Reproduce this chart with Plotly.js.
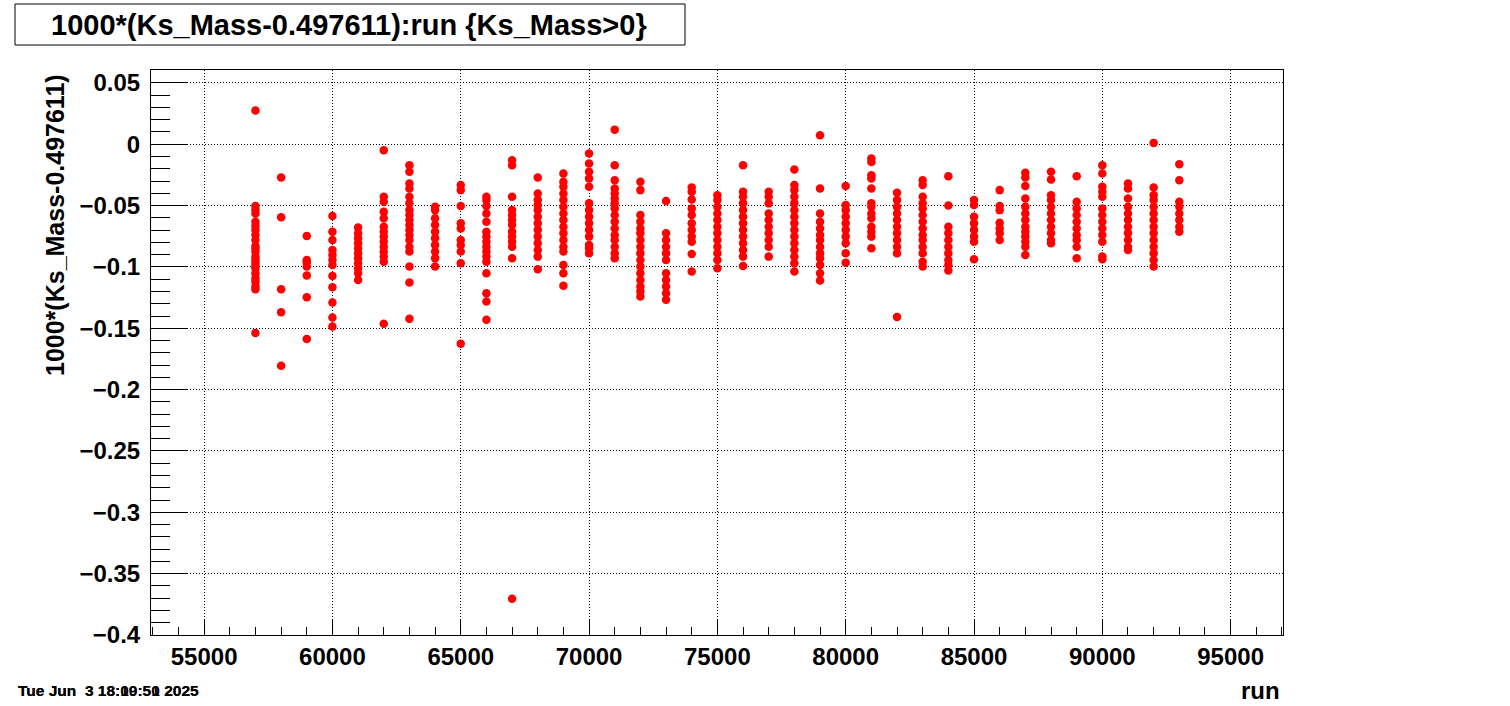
<!DOCTYPE html>
<html><head><meta charset="utf-8">
<script src="https://cdn.plot.ly/plotly-3.0.1.min.js"></script>
<style>html,body{margin:0;padding:0;background:#fff;} #plot{width:1510px;height:706px;}</style>
</head><body><div id="plot"></div>
<script>
// ---- data ----
const runs = [57000,58000,59000,60000,61000,62000,63000,64000,65000,66000,67000,68000,69000,70000,71000,72000,73000,74000,75000,76000,77000,78000,79000,80000,81000,82000,83000,84000,85000,86000,87000,88000,89000,90000,91000,92000,93000];

const r57000 = [0.0274,-0.0504,-0.0535,-0.0564,-0.0631,-0.0667,-0.0700,-0.0740,-0.0780,-0.0829,-0.0850,-0.0875,-0.0916,-0.0940,-0.0965,-0.0990,-0.1011,-0.1051,-0.1092,-0.1120,-0.1160,-0.1182,-0.1539];
const r58000 = [-0.0271,-0.0596,-0.1182,-0.1369,-0.1806];
const r59000 = [-0.0748,-0.0943,-0.0962,-0.0997,-0.1070,-0.1247,-0.1588];
const r60000 = [-0.0585,-0.0713,-0.0780,-0.0862,-0.0902,-0.0943,-0.0984,-0.1073,-0.1165,-0.1290,-0.1412,-0.1485];
const r61000 = [-0.0678,-0.0726,-0.0767,-0.0808,-0.0848,-0.0889,-0.0930,-0.0970,-0.1011,-0.1051,-0.1106];
const r62000 = [-0.0049,-0.0428,-0.0469,-0.0550,-0.0604,-0.0672,-0.0713,-0.0753,-0.0794,-0.0835,-0.0875,-0.0916,-0.0957,-0.1463];
const r63000 = [-0.0171,-0.0225,-0.0320,-0.0360,-0.0428,-0.0482,-0.0537,-0.0577,-0.0618,-0.0659,-0.0699,-0.0740,-0.0780,-0.0835,-0.0875,-0.0997,-0.1127,-0.1423];
const r64000 = [-0.0509,-0.0537,-0.0604,-0.0659,-0.0713,-0.0767,-0.0821,-0.0875,-0.0930,-0.0997];
const r65000 = [-0.0333,-0.0374,-0.0504,-0.0645,-0.0686,-0.0780,-0.0821,-0.0875,-0.0970,-0.1627];
const r66000 = [-0.0428,-0.0455,-0.0504,-0.0564,-0.0631,-0.0713,-0.0753,-0.0794,-0.0835,-0.0875,-0.0916,-0.0957,-0.1051,-0.1214,-0.1282,-0.1431];
const r67000 = [-0.0130,-0.0171,-0.0428,-0.0537,-0.0577,-0.0618,-0.0659,-0.0713,-0.0753,-0.0794,-0.0835,-0.0930,-0.3704];
const r68000 = [-0.0271,-0.0401,-0.0455,-0.0496,-0.0537,-0.0591,-0.0645,-0.0699,-0.0753,-0.0808,-0.0862,-0.0916,-0.1019];
const r69000 = [-0.0238,-0.0306,-0.0347,-0.0401,-0.0455,-0.0509,-0.0564,-0.0618,-0.0672,-0.0726,-0.0780,-0.0835,-0.0875,-0.0984,-0.1051,-0.1154];
const r70000 = [-0.0076,-0.0157,-0.0225,-0.0279,-0.0347,-0.0482,-0.0537,-0.0591,-0.0645,-0.0699,-0.0753,-0.0821,-0.0848,-0.0889];
const r71000 = [0.0119,-0.0171,-0.0293,-0.0360,-0.0401,-0.0442,-0.0482,-0.0523,-0.0577,-0.0631,-0.0686,-0.0740,-0.0780,-0.0835,-0.0889,-0.0930];
const r72000 = [-0.0306,-0.0374,-0.0577,-0.0631,-0.0686,-0.0726,-0.0780,-0.0835,-0.0889,-0.0943,-0.0997,-0.1051,-0.1106,-0.1160,-0.1201,-0.1241];
const r73000 = [-0.0463,-0.0726,-0.0780,-0.0835,-0.0889,-0.0943,-0.1051,-0.1106,-0.1160,-0.1214,-0.1268];
const r74000 = [-0.0352,-0.0388,-0.0450,-0.0523,-0.0577,-0.0645,-0.0699,-0.0753,-0.0794,-0.0894,-0.1038];
const r75000 = [-0.0415,-0.0455,-0.0509,-0.0564,-0.0618,-0.0672,-0.0726,-0.0780,-0.0835,-0.0889,-0.0943,-0.1011];
const r76000 = [-0.0171,-0.0388,-0.0428,-0.0482,-0.0537,-0.0591,-0.0645,-0.0699,-0.0753,-0.0808,-0.0862,-0.0916,-0.0992];
const r77000 = [-0.0388,-0.0428,-0.0482,-0.0564,-0.0618,-0.0672,-0.0726,-0.0780,-0.0835,-0.0916];
const r78000 = [-0.0206,-0.0333,-0.0374,-0.0428,-0.0482,-0.0537,-0.0591,-0.0645,-0.0699,-0.0753,-0.0808,-0.0862,-0.0916,-0.0970,-0.1038];
const r79000 = [0.0073,-0.0360,-0.0564,-0.0631,-0.0686,-0.0740,-0.0780,-0.0835,-0.0889,-0.0930,-0.0984,-0.1051,-0.1111];
const r80000 = [-0.0341,-0.0496,-0.0537,-0.0591,-0.0645,-0.0699,-0.0753,-0.0808,-0.0889,-0.0965];
const r81000 = [-0.0117,-0.0144,-0.0252,-0.0279,-0.0360,-0.0482,-0.0509,-0.0564,-0.0604,-0.0672,-0.0713,-0.0753,-0.0848];
const r82000 = [-0.0396,-0.0455,-0.0509,-0.0564,-0.0618,-0.0672,-0.0726,-0.0780,-0.0835,-0.0889,-0.1409];
const r83000 = [-0.0293,-0.0333,-0.0428,-0.0482,-0.0523,-0.0577,-0.0631,-0.0686,-0.0740,-0.0780,-0.0835,-0.0889,-0.0957,-0.0997];
const r84000 = [-0.0260,-0.0499,-0.0672,-0.0726,-0.0780,-0.0835,-0.0889,-0.0943,-0.0984,-0.1030];
const r85000 = [-0.0455,-0.0496,-0.0591,-0.0645,-0.0699,-0.0753,-0.0794,-0.0938];
const r86000 = [-0.0374,-0.0504,-0.0537,-0.0640,-0.0686,-0.0726,-0.0780];
const r87000 = [-0.0233,-0.0271,-0.0341,-0.0442,-0.0509,-0.0564,-0.0618,-0.0672,-0.0713,-0.0753,-0.0794,-0.0835,-0.0902];
const r88000 = [-0.0225,-0.0287,-0.0415,-0.0455,-0.0509,-0.0564,-0.0618,-0.0672,-0.0726,-0.0780,-0.0808];
const r89000 = [-0.0260,-0.0469,-0.0523,-0.0577,-0.0631,-0.0686,-0.0740,-0.0780,-0.0835,-0.0930];
const r90000 = [-0.0171,-0.0238,-0.0347,-0.0388,-0.0428,-0.0523,-0.0577,-0.0631,-0.0686,-0.0740,-0.0794,-0.0916,-0.0938];
const r91000 = [-0.0320,-0.0360,-0.0442,-0.0509,-0.0564,-0.0618,-0.0672,-0.0726,-0.0780,-0.0835,-0.0862];
const r92000 = [0.0011,-0.0352,-0.0415,-0.0455,-0.0509,-0.0564,-0.0618,-0.0672,-0.0726,-0.0780,-0.0835,-0.0889,-0.0943,-0.0997];
const r93000 = [-0.0163,-0.0293,-0.0469,-0.0509,-0.0564,-0.0618,-0.0672,-0.0713];

const columns = [r57000,r58000,r59000,r60000,r61000,r62000,r63000,r64000,r65000,r66000,r67000,r68000,r69000,r70000,r71000,r72000,r73000,r74000,r75000,r76000,r77000,r78000,r79000,r80000,r81000,r82000,r83000,r84000,r85000,r86000,r87000,r88000,r89000,r90000,r91000,r92000,r93000];

const titleText = "1000*(Ks_Mass-0.497611):run {Ks_Mass>0}";
const yTitleText = "1000*(Ks_Mass-0.497611)";
const xTitleText = "run";
const dateStamps = ["Tue Jun\u00a0\u00a03 18:09:50 2025", "Tue Jun\u00a0\u00a03 18:10:51 2025"];

// ---- build ----
const xs = [], ys = [];
columns.forEach((col, i) => col.forEach(v => { xs.push(runs[i]); ys.push(v); }));

const L = 151, R = 1283, T = 70, B = 635;
const px = p => (p - L) / (R - L);
const py = p => (B - p) / (B - T);
const FONT = "Liberation Sans, Arial, Helvetica, sans-serif";
const bold = (size) => ({family: FONT, size: size, color: "#000", weight: "bold"});

const trace = {
  type: "scatter", mode: "markers", x: xs, y: ys,
  marker: {symbol: "circle", size: 8.5, color: "#ff0000", line: {width: 0}},
  hoverinfo: "x+y", showlegend: false
};

const axisCommon = {
  showline: true, linecolor: "#000", linewidth: 1, mirror: true,
  showgrid: true, gridcolor: "#000", gridwidth: 1, griddash: "1px,2px",
  zeroline: false, ticks: "inside", tickcolor: "#000", tickwidth: 1,
  tickfont: bold(24), automargin: false, exponentformat: "none", separatethousands: false
};

const layout = {
  width: 1510, height: 706,
  margin: {l: L, r: 1510 - R, t: T, b: 706 - B, pad: 0},
  paper_bgcolor: "#fff", plot_bgcolor: "#fff",
  font: {family: FONT, color: "#000"},
  showlegend: false,
  xaxis: Object.assign({}, axisCommon, {
    range: [52930, 97040], tick0: 0, dtick: 5000, ticklen: 15, tickformat: "d",
    minor: {dtick: 1000, ticks: "inside", ticklen: 8, tickcolor: "#000", tickwidth: 1, showgrid: false},
    ticklabelstandoff: 0
  }),
  yaxis: Object.assign({}, axisCommon, {
    range: [-0.4, 0.0605], tick0: 0, dtick: 0.05, ticklen: 37,
    minor: {dtick: 0.01, ticks: "inside", ticklen: 19, tickcolor: "#000", tickwidth: 1, showgrid: false},
    ticklabelstandoff: 5
  }),
  shapes: [{
    type: "rect", xref: "paper", yref: "paper",
    x0: px(15), x1: px(685), y0: py(45), y1: py(4),
    line: {color: "#000", width: 1}, fillcolor: "#fff"
  }],
  annotations: [
    {text: titleText, xref: "paper", yref: "paper", x: px(349), y: py(25),
     xanchor: "center", yanchor: "middle", showarrow: false, font: bold(29)},
    {text: yTitleText, xref: "paper", yref: "paper", x: px(55), y: py(72),
     xanchor: "center", yanchor: "top", textangle: -90, showarrow: false, font: bold(25)},
    {text: xTitleText, xref: "paper", yref: "paper", x: px(1282), y: py(691),
     xanchor: "right", yanchor: "middle", showarrow: false, font: bold(24)}
  ].concat(dateStamps.map(s => ({
     text: s, xref: "paper", yref: "paper", x: px(16), y: py(691),
     xanchor: "left", yanchor: "middle", showarrow: false, font: bold(15.5)})))
};

Plotly.newPlot("plot", [trace], layout, {displayModeBar: false, staticPlot: true});
</script>
</body></html>
